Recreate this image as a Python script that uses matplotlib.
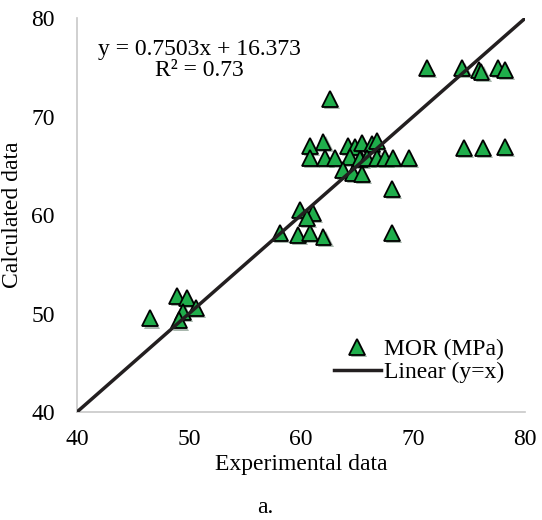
import numpy as np
import matplotlib.pyplot as plt
import matplotlib.patheffects as pe

plt.rcParams['font.family'] = ['Liberation Serif', 'DejaVu Serif']

# MOR (MPa) - experimental vs calculated
exp_data = [46.5, 48.9, 49.8, 50.6, 49.5, 49.1,
            58.1, 59.7, 60.8, 62.0, 59.9, 61.1, 60.5,
            60.8, 62.0, 64.2, 64.8, 65.4, 66.3, 66.8,
            60.8, 62.1, 63.0, 64.4, 65.3, 65.9, 66.8, 67.5, 68.2, 69.6,
            63.75, 64.6, 65.4,
            68.1, 68.1, 62.6,
            71.2, 74.4, 75.9, 76.1, 77.6, 78.2,
            74.5, 76.2, 78.2]
calc_data = [49.5, 51.8, 51.6, 50.6, 50.2, 49.3,
             58.2, 58.0, 58.2, 57.8, 60.5, 60.2, 59.7,
             67.0, 67.4, 67.0, 66.9, 67.3, 67.2, 67.5,
             65.8, 65.8, 65.8, 65.9, 65.7, 65.8, 65.8, 65.8, 65.8, 65.8,
             64.6, 64.3, 64.2,
             62.7, 58.2, 71.8,
             74.9, 74.9, 74.7, 74.5, 74.9, 74.7,
             66.8, 66.8, 66.9]
line_x = [40, 80]
line_y = [40, 80]

fig = plt.figure(figsize=(5.42, 5.2), dpi=100)
ax = fig.add_axes([0.142, 0.2077, 0.827, 0.7573])

ax.plot(exp_data, calc_data, linestyle='none', marker='^', markersize=11.5,
        markerfacecolor='#1fae4b', markeredgecolor='black', markeredgewidth=1.3,
        label='MOR (MPa)', zorder=3,
        path_effects=[pe.withSimplePatchShadow(offset=(1.5, -1.5), alpha=0.35)])
ax.plot(line_x, line_y, color='#231f20', linewidth=2.5, label='Linear (y=x)', zorder=4)

ax.set_xlim(40, 80)
ax.set_ylim(40, 80)
ax.set_xticks([40, 50, 60, 70, 80])
ax.set_yticks([40, 50, 60, 70, 80])
ax.tick_params(axis='y', length=0, labelsize=17, pad=16)
ax.tick_params(axis='x', length=0, labelsize=17, pad=12)
for s in ['top', 'right']:
    ax.spines[s].set_visible(False)
for s in ['left', 'bottom']:
    ax.spines[s].set_color('#c8c8c8')
    ax.spines[s].set_linewidth(1.2)

ax.set_xlabel('Experimental data', fontsize=17, labelpad=3)
ax.set_ylabel('Calculated data', fontsize=17, labelpad=6)

ax.text(50.9, 75.8, 'y = 0.7503x + 16.373\nR² = 0.73', fontsize=17,
        ha='center', va='center', multialignment='center', linespacing=1.0)

ax.legend(loc='lower right', bbox_to_anchor=(0.975, 0.05), frameon=False,
          fontsize=17, handlelength=2.0, handletextpad=0.15, labelspacing=0.05,
          borderaxespad=0)

fig.text(0.49, 0.003, 'a.', fontsize=17, ha='center', va='bottom')

fig.savefig('out.png', dpi=100)
